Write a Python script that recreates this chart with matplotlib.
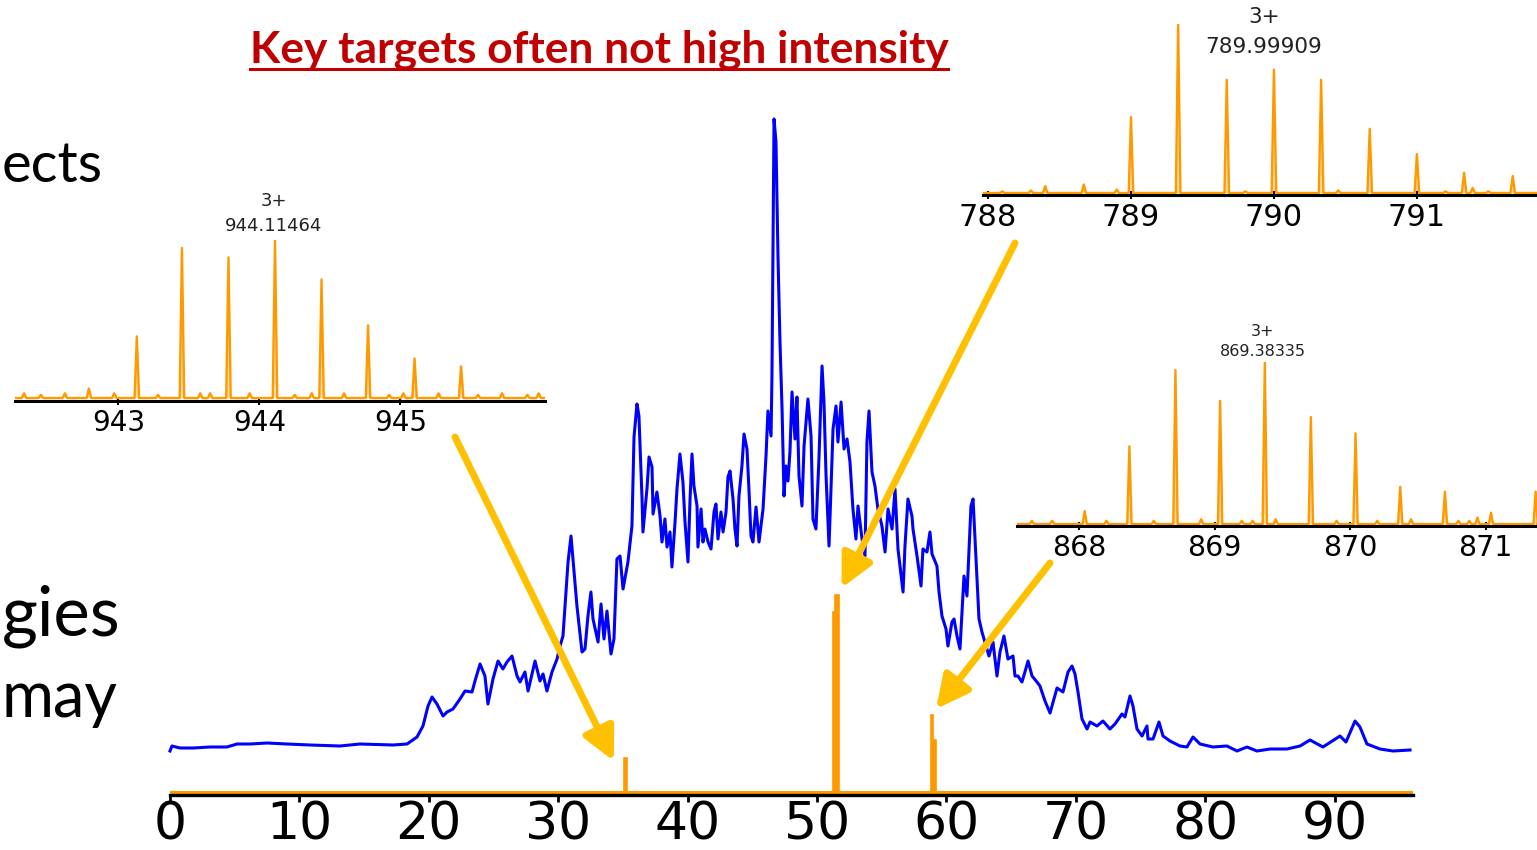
import matplotlib
matplotlib.use('Agg')
import matplotlib.pyplot as plt

W, H, DPI = 1537, 850, 100

# ---------------- data ----------------
# Total ion chromatogram (retention time in min, intensity x1e6 arbitrary)
rt_min = [0.00, 0.15, 0.77, 1.78, 3.09, 4.40, 5.18, 6.18, 7.50, 9.04, 10.82, 13.14, 14.68, 17.23, 18.32,
          19.09, 19.55, 19.94, 20.25, 20.63, 21.10, 21.41, 21.87, 22.41, 22.80, 23.34, 23.57, 23.96, 24.34,
          24.57, 24.96, 25.35, 25.73, 26.04, 26.43, 26.82, 27.05, 27.43, 27.67, 28.21, 28.59, 28.83, 29.13,
          29.52, 29.91, 30.14, 30.37, 30.53, 30.76, 30.99, 31.14, 31.45, 31.84, 32.07, 32.30, 32.53, 32.69,
          33.08, 33.31, 33.54, 33.77, 34.08, 34.31, 34.54, 34.78, 35.01, 35.39, 35.70, 35.86, 36.09, 36.24,
          36.48, 36.55, 36.86, 37.02, 37.25, 37.33, 37.63, 37.87, 38.02, 38.25, 38.41, 38.64, 38.79, 39.03,
          39.18, 39.41, 39.64, 39.80, 40.03, 40.19, 40.34, 40.49, 40.73, 40.80, 41.04, 41.19, 41.34, 41.58,
          41.81, 42.04, 42.19, 42.35, 42.58, 42.74, 42.97, 43.12, 43.28, 43.51, 43.66, 43.82, 43.97, 44.20,
          44.36, 44.59, 44.74, 44.90, 45.05, 45.29, 45.52, 45.83, 46.06, 46.21, 46.45, 46.52, 46.68, 46.83,
          46.99, 47.14, 47.30, 47.45, 47.60, 47.76, 47.91, 48.07, 48.30, 48.45, 48.61, 48.84, 49.00, 49.30,
          49.54, 49.69, 49.92, 50.15, 50.39, 50.54, 50.70, 50.93, 51.24, 51.47, 51.62, 51.86, 52.09, 52.32,
          52.55, 52.78, 53.01, 53.17, 53.48, 53.71, 53.86, 54.02, 54.25, 54.48, 54.71, 55.02, 55.26, 55.49,
          55.80, 56.03, 56.26, 56.65, 56.80, 57.03, 57.34, 57.42, 57.73, 58.04, 58.19, 58.50, 58.73, 58.89,
          59.27, 59.43, 59.66, 59.97, 60.12, 60.43, 60.59, 60.82, 61.05, 61.36, 61.59, 61.90, 62.06, 62.29,
          62.52, 62.75, 63.06, 63.29, 63.60, 63.91, 64.14, 64.45, 64.76, 65.15, 65.30, 65.53, 65.84, 66.07,
          66.31, 66.62, 67.00, 67.23, 67.62, 68.01, 68.55, 69.01, 69.40, 69.71, 69.94, 70.17, 70.48, 70.87,
          71.10, 71.64, 72.10, 72.64, 73.03, 73.57, 73.80, 74.19, 74.42, 74.73, 75.12, 75.50, 75.58, 75.97,
          76.43, 76.74, 77.28, 78.05, 78.59, 79.06, 79.60, 80.60, 81.68, 82.46, 83.23, 84.00, 85.01, 86.32,
          87.33, 88.10, 89.10, 90.42, 90.88, 91.58, 91.96, 92.50, 93.51, 94.51, 95.83]
tic_intensity = [0.41, 0.46, 0.44, 0.44, 0.45, 0.45, 0.48, 0.48, 0.49, 0.48, 0.47, 0.46, 0.48, 0.47, 0.48,
                 0.55, 0.66, 0.86, 0.95, 0.88, 0.76, 0.80, 0.83, 0.93, 1.01, 1.00, 1.11, 1.28, 1.16,
                 0.88, 1.13, 1.31, 1.23, 1.30, 1.36, 1.16, 1.10, 1.20, 1.01, 1.31, 1.11, 1.18, 1.01,
                 1.20, 1.33, 1.46, 1.56, 1.86, 2.30, 2.56, 2.33, 1.86, 1.40, 1.43, 1.76, 2.00, 1.73,
                 1.50, 1.88, 1.53, 1.81, 1.38, 1.53, 2.33, 2.36, 2.03, 2.30, 2.66, 3.55, 3.88, 3.76,
                 2.93, 2.60, 3.03, 3.35, 3.25, 2.78, 3.00, 2.76, 2.50, 2.73, 2.45, 2.60, 2.25, 2.70,
                 3.03, 3.38, 3.10, 2.70, 2.30, 2.93, 3.38, 3.06, 2.86, 2.45, 2.83, 2.50, 2.63, 2.50,
                 2.43, 2.80, 2.88, 2.53, 2.80, 2.60, 2.80, 3.15, 3.21, 2.93, 2.63, 2.46, 2.96, 3.26,
                 3.58, 3.43, 3.03, 2.56, 2.50, 2.85, 2.50, 2.83, 3.36, 3.81, 3.56, 4.16, 6.73, 6.50,
                 5.33, 4.50, 3.83, 2.96, 3.26, 3.11, 3.40, 4.00, 3.53, 3.95, 3.16, 2.86, 3.46, 3.93,
                 3.56, 2.73, 2.63, 3.33, 4.26, 3.90, 3.16, 2.46, 3.63, 3.86, 3.50, 3.90, 3.43, 3.53,
                 3.30, 2.83, 2.53, 2.86, 2.53, 2.36, 3.50, 3.81, 3.20, 3.06, 2.83, 2.66, 2.40, 2.83,
                 2.63, 3.03, 2.43, 2.00, 2.46, 2.93, 2.76, 2.63, 2.36, 2.06, 2.43, 2.40, 2.60, 2.38,
                 2.26, 2.00, 1.76, 1.63, 1.46, 1.70, 1.73, 1.56, 1.43, 2.16, 1.96, 2.86, 2.93, 2.33,
                 1.73, 1.60, 1.46, 1.36, 1.50, 1.16, 1.40, 1.56, 1.33, 1.36, 1.16, 1.16, 1.10, 1.20,
                 1.31, 1.16, 1.10, 1.06, 0.91, 0.79, 1.04, 1.00, 1.20, 1.26, 1.18, 1.00, 0.73, 0.63,
                 0.70, 0.66, 0.71, 0.63, 0.68, 0.78, 0.75, 0.96, 0.86, 0.63, 0.56, 0.66, 0.53, 0.53,
                 0.70, 0.56, 0.51, 0.46, 0.45, 0.55, 0.48, 0.45, 0.46, 0.41, 0.45, 0.41, 0.43, 0.43,
                 0.46, 0.52, 0.45, 0.56, 0.50, 0.71, 0.65, 0.48, 0.43, 0.41, 0.42]

# Extracted ion chromatograms of the three targets (outline of the stick traces)
xic_time = [35.12, 35.12, 35.28, 35.28, 51.25, 51.25, 51.42, 51.42, 51.70, 51.70,
            58.82, 58.82, 58.97, 58.97, 59.22, 59.22]
xic_intensity = [0.00, 0.34, 0.34, 0.00, 0.00, 1.80, 1.80, 1.97, 1.97, 0.00,
                 0.00, 0.77, 0.77, 0.52, 0.52, 0.00]
rt_ticks = [0, 10, 20, 30, 40, 50, 60, 70, 80, 90]

# Isotope envelopes (m/z, relative intensity %)
inset1_mz = [942.79, 943.13, 943.45, 943.78, 944.11, 944.44, 944.77, 945.10, 945.43]
inset1_rel = [6, 39, 95, 89, 100, 75, 46, 25, 20]
inset1_noise_mz = [942.33, 942.45, 942.62, 942.97, 943.28, 943.58, 943.65, 943.93, 944.25,
                   944.37, 944.60, 944.92, 945.02, 945.27, 945.55, 945.72, 945.90, 945.98]
inset1_noise_rel = [3, 2, 3, 3, 2, 3, 3, 3, 2, 3, 3, 2, 3, 3, 2, 3, 2, 3]
inset1_ticks = [943, 944, 945]
inset1_label = ("3+", "944.11464")

inset2_mz = [788.40, 788.67, 789.00, 789.33, 789.67, 790.00, 790.33, 790.67, 791.00, 791.33, 791.39, 791.67]
inset2_rel = [4, 5, 45, 100, 67, 73, 67, 38, 23, 12, 3, 10]
inset2_noise_mz = [788.10, 788.30, 788.90, 789.80, 790.45, 791.20, 791.50]
inset2_noise_rel = [1, 1.5, 2, 1, 1.5, 1, 1]
inset2_ticks = [788, 789, 790, 791]
inset2_label = ("3+", "789.99909")

inset3_mz = [868.04, 868.37, 868.71, 869.04, 869.37, 869.71, 870.04, 870.37, 870.70, 870.94, 871.04, 871.37]
inset3_rel = [8, 48, 95, 76, 100, 66, 56, 23, 20, 4, 7, 20]
inset3_noise_mz = [867.65, 867.80, 868.20, 868.55, 868.90, 869.20, 869.28, 869.45, 869.90,
                   870.20, 870.45, 870.80, 870.88]
inset3_noise_rel = [2, 2, 2, 2, 3, 2, 2, 3, 2, 2, 3, 2, 2]
inset3_ticks = [868, 869, 870, 871]
inset3_label = ("3+", "869.38335")

title = "Key targets often not high intensity"
side_words = ["ects", "gies", "may"]

BLUE = "#0000FF"
ORANGE = "#FF9900"
ARROW = "#FFC000"
RED = "#C00000"

fig = plt.figure(figsize=(W / DPI, H / DPI), dpi=DPI)


def add_ax(left, top, right, bottom):
    a = fig.add_axes([left / W, 1 - bottom / H, (right - left) / W, (bottom - top) / H])
    a.set_facecolor('none')
    for s in ('top', 'right', 'left'):
        a.spines[s].set_visible(False)
    a.set_yticks([])
    return a


# ---------------- main chromatogram ----------------
ax = add_ax(170, 115, 1413, 795)
ax.set_xlim(0, 96.06)
ax.set_ylim(-0.03, 6.77)
ax.plot(rt_min, tic_intensity, color=BLUE, lw=2.2, zorder=3, clip_on=False)
ax.axhline(0, color=ORANGE, lw=2.2, zorder=2)
ax.fill(xic_time, xic_intensity, color=ORANGE, lw=1.2, zorder=4)
ax.spines['bottom'].set_linewidth(2.4)
ax.set_xticks(rt_ticks)
ax.tick_params(axis='x', direction='out', length=5, width=2, labelsize=37.5, pad=-1)
for lab in ax.get_xticklabels():
    lab.set_fontfamily('DejaVu Sans')


def spectrum(a, mz, rel, nmz, nrel, xlim, w=0.016):
    pts = sorted(list(zip(mz, rel)) + list(zip(nmz, nrel)))
    xs, ys = [xlim[0]], [0]
    for c, h in pts:
        xs += [c - w, c, c + w]
        ys += [0, h, 0]
    xs.append(xlim[1]); ys.append(0)
    a.plot(xs, ys, color=ORANGE, lw=1.7, solid_joinstyle='round')
    a.fill(xs, ys, color=ORANGE, alpha=0.35, lw=0)


def setup_inset(a, xlim, ylim, ticks, fs, pad):
    a.set_xlim(*xlim)
    a.set_ylim(*ylim)
    a.spines['bottom'].set_linewidth(2.2)
    a.set_xticks(ticks)
    a.tick_params(axis='x', direction='inout', length=6, width=1.5, labelsize=fs, pad=pad)


# inset 1 (left)
a1 = add_ax(15, 240, 545, 401)
x1 = (942.266, 946.025)
spectrum(a1, inset1_mz, inset1_rel, inset1_noise_mz, inset1_noise_rel, x1)
setup_inset(a1, x1, (-1.9, 100), inset1_ticks, 20, 3)

# inset 2 (top right)
a2 = add_ax(983, 24, 1537, 195)
x2 = (787.965, 791.84)
spectrum(a2, inset2_mz, inset2_rel, inset2_noise_mz, inset2_noise_rel, x2)
setup_inset(a2, x2, (-1.2, 100), inset2_ticks, 22, 3)

# inset 3 (bottom right)
a3 = add_ax(1017, 362, 1537, 526)
x3 = (867.54, 871.38)
spectrum(a3, inset3_mz, inset3_rel, inset3_noise_mz, inset3_noise_rel, x3)
setup_inset(a3, x3, (-1.2, 100), inset3_ticks, 20.5, 3)

# peak annotations
for (cx, y1, y2, fs, lab) in [(274, 201, 226, 13, inset1_label),
                               (1264, 17, 47, 15.5, inset2_label),
                               (1263, 331, 352, 11.5, inset3_label)]:
    fig.text(cx / W, 1 - y1 / H, lab[0], ha='center', va='center', fontsize=fs, color='#222222')
    fig.text(cx / W, 1 - y2 / H, lab[1], ha='center', va='center', fontsize=fs, color='#222222')

# arrows from the insets to the target XIC peaks
astyle = dict(arrowstyle='-|>,head_length=1.1,head_width=0.55', color=ARROW, lw=5,
              mutation_scale=18, shrinkA=0, shrinkB=0)
for tip, start in [((34.3, 0.31), (455, 437)), ((51.9, 2.04), (1015, 243)), ((59.2, 0.83), (1050, 563))]:
    ax.annotate('', xy=tip, xycoords='data', xytext=(start[0], H - start[1]),
                textcoords='figure pixels', arrowprops=astyle, annotation_clip=False, zorder=10)

# title (underlined)
t = fig.text(599 / W, 1 - 63 / H, title, ha='center', va='baseline', fontsize=30,
             fontweight='bold', color=RED, family='Lato')
fig.canvas.draw()
bb = t.get_window_extent()
t.set_fontsize(30 * 698 / bb.width)
fig.canvas.draw()
bb = t.get_window_extent()
fig.add_artist(plt.Line2D([bb.x0, bb.x1], [H - 69, H - 69], transform=None, color=RED, lw=2.2))

# slide text at the left edge (fitted to the visible width)
for word, (xr, yb) in zip(side_words, [(103, 182), (121, 636), (118, 717)]):
    tw = fig.text(2 / W, 1 - yb / H, word, ha='left', va='baseline', fontsize=55, family='Lato',
                  color='black')
    fig.canvas.draw()
    wpx = tw.get_window_extent().width
    if wpx > xr - 2:
        tw.set_fontsize(55 * (xr - 2) / wpx)

fig.savefig('out.png', dpi=DPI)
